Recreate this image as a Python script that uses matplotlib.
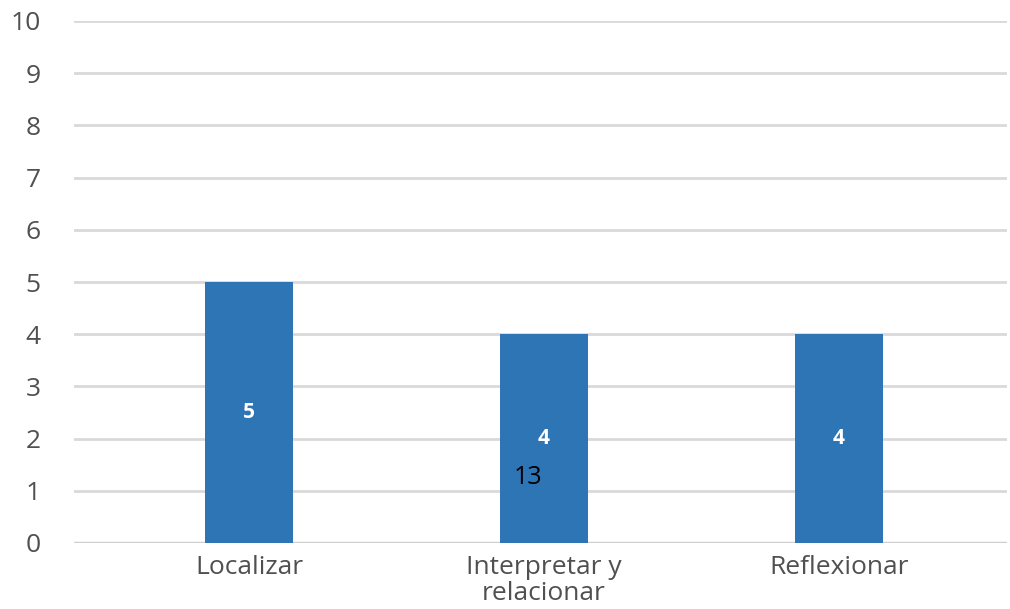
import matplotlib
matplotlib.use("Agg")
import matplotlib.pyplot as plt

categories = ["Localizar", "Interpretar y\nrelacionar", "Reflexionar"]
values = [5, 4, 4]
yticks = list(range(0, 11))
stray_label = "13"
stray_pos = (0.946, 1.25)

plt.rcParams['font.family'] = ['Open Sans', 'DejaVu Sans']

fig = plt.figure(figsize=(10.10, 6.09), dpi=100)
ax = fig.add_axes([74/1010, 66/609, 933/1010, 522/609])

x = list(range(len(categories)))
bars = ax.bar(x, values, width=0.298, color="#2E75B6", zorder=3)
for xi, v in zip(x, values):
    ax.text(xi, v / 2, str(v), ha="center", va="center", color="white",
            fontsize=15, fontweight="bold", zorder=4)
ax.text(stray_pos[0], stray_pos[1], stray_label, ha="center", va="center",
        color="black", fontsize=18, zorder=5)

ax.set_xlim(-0.593, 2.569)
ax.set_ylim(0, 10)
ax.set_yticks(yticks)
ax.set_xticks(x)
ax.set_xticklabels(categories, linespacing=1.05)
ax.grid(axis="y", color="#D9D9D9", linewidth=2, zorder=0)
for s in ["top", "right", "left", "bottom"]:
    ax.spines[s].set_visible(False)
ax.axhline(0, color="#D0D0D0", linewidth=2.5, zorder=2)
ax.tick_params(axis="both", length=0, labelsize=19, colors="#505050")
ax.tick_params(axis="y", pad=24)
ax.tick_params(axis="x", pad=9)
for lbl in ax.get_yticklabels():
    lbl.set_horizontalalignment("right")

fig.savefig("out.png", dpi=100, facecolor="white")
